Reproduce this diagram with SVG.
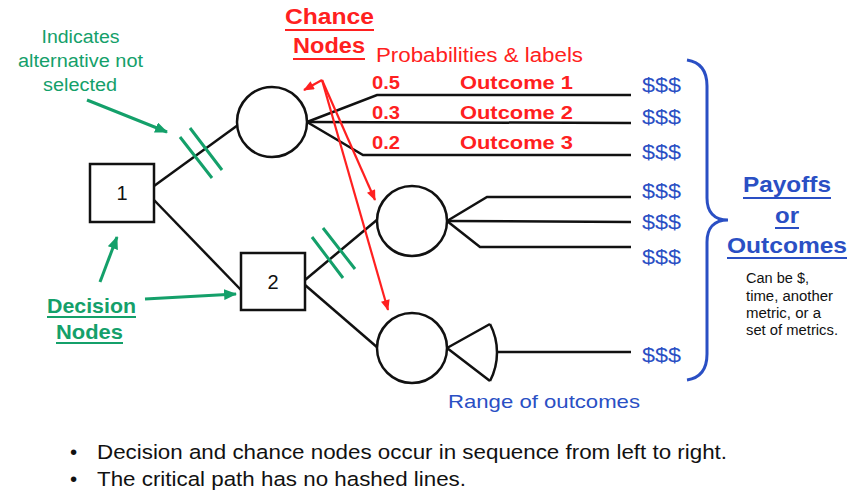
<svg xmlns="http://www.w3.org/2000/svg" width="858" height="503" viewBox="0 0 858 503">
<style>
text{font-family:"Liberation Sans",Arial,sans-serif}
.blk{fill:none;stroke:#111;stroke-width:2.5}
.nd{fill:#fff;stroke:#111;stroke-width:2.5}
.num{font-size:20px;fill:#111}
.g{fill:#14a06a}
.r{fill:#ff2020}
.b{fill:#2a4fc4}
.bold{font-weight:bold}
.gs{stroke:#14a06a;stroke-width:3;fill:none}
.rs{stroke:#ff2020;stroke-width:2.2;fill:none}
.bs{stroke:#2a4fc4;stroke-width:3;fill:none}
.ul{stroke-width:2}
.cap{font-size:14px;fill:#111}
.pay{font-size:21px}
</style>
<defs>
<marker id="ga" viewBox="0 0 12 10" refX="11" refY="5" markerUnits="userSpaceOnUse" markerWidth="13" markerHeight="11" orient="auto"><path d="M0,0 L12,5 L0,10 z" fill="#14a06a"/></marker>
<marker id="ra" viewBox="0 0 12 10" refX="11" refY="5" markerUnits="userSpaceOnUse" markerWidth="12" markerHeight="9" orient="auto"><path d="M0,0 L12,5 L0,10 z" fill="#ff2020"/></marker>
</defs>

<g id="connectors">
<path class="blk" d="M154,186 L238,125"/>
<path class="blk" d="M154,200 L241,290"/>
<path class="blk" d="M305,280 L378,219"/>
<path class="blk" d="M305,285 L378,348"/>
<path class="blk" d="M307,122 L377,95 H631"/>
<path class="blk" d="M307,122 L631,123"/>
<path class="blk" d="M307,122 L363,155 H631"/>
<path class="blk" d="M447,221 L487,197 H631"/>
<path class="blk" d="M447,221 L631,222"/>
<path class="blk" d="M447,221 L480,247 H631"/>
<path class="blk" d="M447,348 L490,324 M447,348 L490,381"/>
<path class="blk" d="M490,324 A61.5,61.5 0 0 1 490,381"/>
<path class="blk" d="M497,352 H631"/>
</g>

<g id="hash-marks">
<path class="gs" d="M180,137 L212,178 M190,128 L222,170"/>
<path class="gs" d="M312,237 L343,278 M323,228 L355,269"/>
</g>

<g id="node1">
<rect class="nd" x="90" y="164" width="64" height="58"/>
<text class="num" x="122" y="200" text-anchor="middle">1</text>
</g>
<g id="node2">
<rect class="nd" x="241" y="253" width="64" height="57"/>
<text class="num" x="273" y="289" text-anchor="middle">2</text>
</g>
<g id="chance1"><circle class="nd" cx="272" cy="122" r="35"/></g>
<g id="chance2"><circle class="nd" cx="412" cy="221" r="35"/></g>
<g id="chance3"><circle class="nd" cx="412" cy="348" r="35"/></g>

<g id="annotation-arrows">
<path class="gs" d="M87,100 L167,132" marker-end="url(#ga)"/>
<path class="gs" d="M100,282 L117,237" marker-end="url(#ga)"/>
<path class="gs" d="M145,299 L236,294" marker-end="url(#ga)"/>
<path class="rs" d="M322,80 L304,90" marker-end="url(#ra)"/>
<path class="rs" d="M322,80 L375,200" marker-end="url(#ra)"/>
<path class="rs" d="M322,80 L388,310" marker-end="url(#ra)"/>
</g>

<g id="not-selected-label" class="g" font-size="18" text-anchor="middle">
<text x="80.5" y="43" textLength="78" lengthAdjust="spacingAndGlyphs">Indicates</text>
<text x="80.5" y="67" textLength="125" lengthAdjust="spacingAndGlyphs">alternative not</text>
<text x="80" y="91" textLength="74" lengthAdjust="spacingAndGlyphs">selected</text>
</g>

<g id="chance-label">
<text class="r bold" x="285" y="24" font-size="22" textLength="89" lengthAdjust="spacingAndGlyphs">Chance</text>
<text class="r bold" x="293" y="53" font-size="22" textLength="72" lengthAdjust="spacingAndGlyphs">Nodes</text>
<path class="rs ul" d="M285,30 H374 M293,59 H365"/>
<text class="r" x="376" y="62" font-size="20" textLength="207" lengthAdjust="spacingAndGlyphs">Probabilities &amp; labels</text>
</g>

<g id="outcome-labels" class="r bold" font-size="19">
<text x="372" y="89" textLength="28" lengthAdjust="spacingAndGlyphs">0.5</text>
<text x="372" y="119" textLength="28" lengthAdjust="spacingAndGlyphs">0.3</text>
<text x="372" y="149" textLength="28" lengthAdjust="spacingAndGlyphs">0.2</text>
<text x="460" y="89" textLength="113" lengthAdjust="spacingAndGlyphs">Outcome 1</text>
<text x="460" y="119" textLength="113" lengthAdjust="spacingAndGlyphs">Outcome 2</text>
<text x="460" y="149" textLength="113" lengthAdjust="spacingAndGlyphs">Outcome 3</text>
</g>

<g id="payoffs" class="b pay">
<text x="642" y="92" textLength="39" lengthAdjust="spacingAndGlyphs">$$$</text>
<text x="642" y="124" textLength="39" lengthAdjust="spacingAndGlyphs">$$$</text>
<text x="642" y="159" textLength="39" lengthAdjust="spacingAndGlyphs">$$$</text>
<text x="642" y="198" textLength="39" lengthAdjust="spacingAndGlyphs">$$$</text>
<text x="642" y="229" textLength="39" lengthAdjust="spacingAndGlyphs">$$$</text>
<text x="642" y="264" textLength="39" lengthAdjust="spacingAndGlyphs">$$$</text>
<text x="642" y="362" textLength="39" lengthAdjust="spacingAndGlyphs">$$$</text>
</g>

<g id="brace">
<path class="bs" d="M687,60 C700,62 707,70 707,86 L707,198 C707,212 714,220 728,220 C714,220 707,228 707,242 L707,354 C707,370 700,378 687,380"/>
</g>

<g id="payoffs-label">
<text class="b bold" x="787" y="192" font-size="22" text-anchor="middle" textLength="88" lengthAdjust="spacingAndGlyphs">Payoffs</text>
<text class="b bold" x="787" y="223" font-size="22" text-anchor="middle" textLength="24" lengthAdjust="spacingAndGlyphs">or</text>
<text class="b bold" x="787" y="253" font-size="22" text-anchor="middle" textLength="120" lengthAdjust="spacingAndGlyphs">Outcomes</text>
<path class="bs ul" d="M743,198 H831 M775,228 H799 M727,258 H847"/>
<text class="cap" x="746" y="283" textLength="63" lengthAdjust="spacingAndGlyphs">Can be $,</text>
<text class="cap" x="746" y="301" textLength="87" lengthAdjust="spacingAndGlyphs">time, another</text>
<text class="cap" x="746" y="318" textLength="75" lengthAdjust="spacingAndGlyphs">metric, or a</text>
<text class="cap" x="746" y="335" textLength="92" lengthAdjust="spacingAndGlyphs">set of metrics.</text>
</g>

<g id="range-label">
<text class="b" x="448" y="408" font-size="19" textLength="192" lengthAdjust="spacingAndGlyphs">Range of outcomes</text>
</g>

<g id="decision-label">
<text class="g bold" x="47" y="313" font-size="21" textLength="89" lengthAdjust="spacingAndGlyphs">Decision</text>
<text class="g bold" x="56" y="339" font-size="21" textLength="67" lengthAdjust="spacingAndGlyphs">Nodes</text>
<path class="gs ul" d="M47,317 H136 M56,343 H123"/>
</g>

<g id="notes" font-size="20.5" fill="#111">
<text x="70" y="459">•</text>
<text x="97" y="459" textLength="630" lengthAdjust="spacingAndGlyphs">Decision and chance nodes occur in sequence from left to right.</text>
<text x="70" y="486">•</text>
<text x="97" y="486" textLength="369" lengthAdjust="spacingAndGlyphs">The critical path has no hashed lines.</text>
</g>
</svg>
